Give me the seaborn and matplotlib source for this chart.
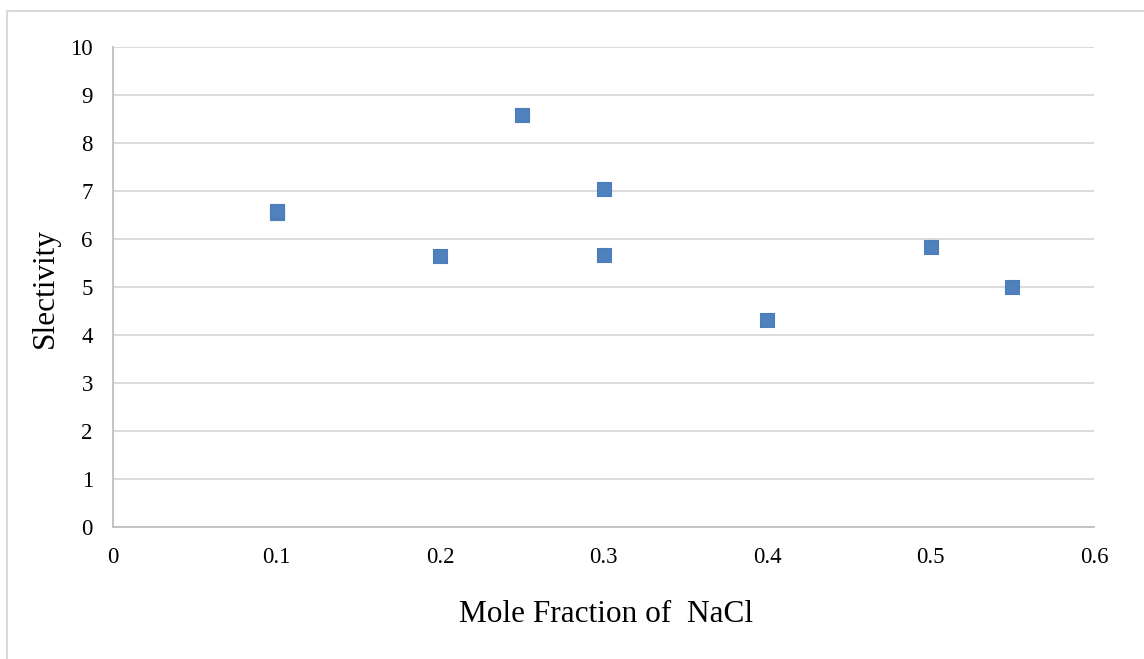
import matplotlib
matplotlib.use("Agg")
import matplotlib.pyplot as plt
import seaborn as sns
import pandas as pd
from matplotlib.patches import Rectangle

# Data
mole_fraction = [0.1, 0.1, 0.2, 0.25, 0.3, 0.3, 0.4, 0.5, 0.55]
selectivity = [6.54, 6.59, 5.65, 8.58, 7.04, 5.66, 4.32, 5.83, 5.0]
x_ticks = [0, 0.1, 0.2, 0.3, 0.4, 0.5, 0.6]
x_tick_labels = ["0", "0.1", "0.2", "0.3", "0.4", "0.5", "0.6"]
y_ticks = list(range(0, 11))

df = pd.DataFrame({"x": mole_fraction, "y": selectivity})

sns.set_theme(style="white")
plt.rcParams["font.family"] = ["Liberation Serif", "DejaVu Serif"]

fig = plt.figure(figsize=(11.44, 6.59), dpi=100)
ax = fig.add_axes([113 / 1144, 1 - 527 / 659, (1094 - 113) / 1144, (527 - 47) / 659])

# outer chart border
fig.patches.append(Rectangle((7 / 1144, -0.05), 1.2, 1 - 11 / 659 + 0.05,
                             transform=fig.transFigure, fill=False,
                             edgecolor="#D9D9D9", linewidth=1.5, zorder=0))

ax.yaxis.grid(True, color="#D9D9D9", linewidth=1.3)
ax.xaxis.grid(False)
ax.set_axisbelow(True)

sns.scatterplot(data=df, x="x", y="y", ax=ax, marker="s", s=115,
                color="#4F81BD", edgecolor="#4A7EBB", linewidth=0.8, zorder=3)

ax.set_xlim(0, 0.6)
ax.set_ylim(0, 10)
ax.set_xticks(x_ticks)
ax.set_xticklabels(x_tick_labels)
ax.set_yticks(y_ticks)
ax.tick_params(axis="both", length=0, labelsize=16.5, colors="#000000")
ax.tick_params(axis="y", pad=14.5)
ax.tick_params(axis="x", pad=14.5)

for side in ["top", "right"]:
    ax.spines[side].set_visible(False)
for side in ["left", "bottom"]:
    ax.spines[side].set_color("#BFBFBF")
    ax.spines[side].set_linewidth(1.3)

ax.set_xlabel("")
ax.set_ylabel("")
fig.text(606 / 1144, 1 - 614 / 659, "Mole Fraction of  NaCl", ha="center",
         va="center", fontsize=22.5, color="#000000")
fig.text(45 / 1144, 1 - 288 / 659, "Slectivity", ha="center", va="center",
         rotation=90, fontsize=22.5, color="#000000")

fig.savefig("out.png", dpi=100)
